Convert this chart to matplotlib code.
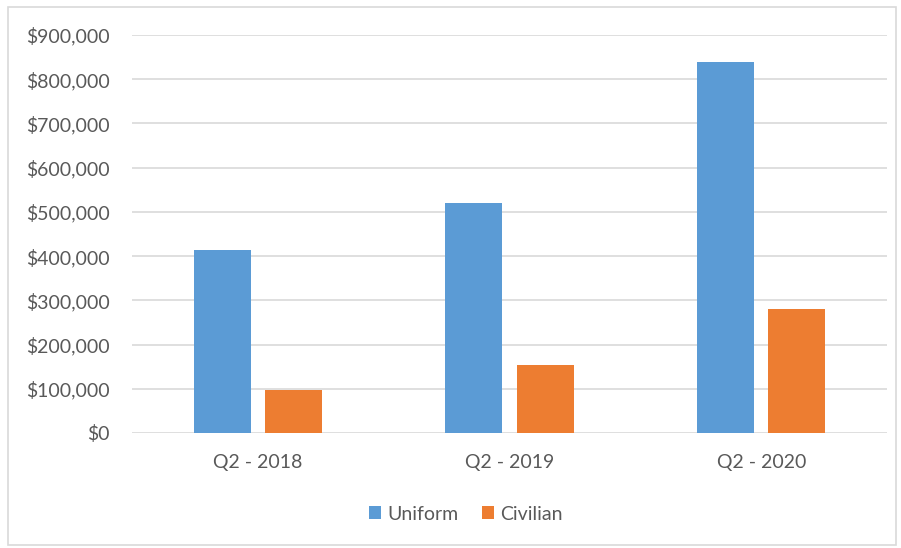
import numpy as np
import matplotlib.pyplot as plt
from matplotlib.patches import Rectangle
from matplotlib.ticker import FuncFormatter

plt.rcParams['font.family'] = ['Lato', 'DejaVu Sans']

categories = ['Q2 - 2018', 'Q2 - 2019', 'Q2 - 2020']
uniform = [414000, 521000, 839000]
civilian = [97000, 154000, 280000]

fig = plt.figure(figsize=(9.01, 5.48), dpi=100)
ax = fig.add_axes([0.1465, 0.2099, 0.838, 0.7262])

x = np.arange(len(categories))
w = 0.227
gap = 0.056
ax.bar(x - (w + gap) / 2, uniform, w, color='#5b9bd5', label='Uniform', zorder=3)
ax.bar(x + (w + gap) / 2, civilian, w, color='#ed7d31', label='Civilian', zorder=3)

ax.set_xlim(-0.5, 2.5)
ax.set_ylim(0, 900000)
ax.set_yticks(np.arange(0, 900001, 100000))
ax.yaxis.set_major_formatter(FuncFormatter(lambda v, p: '${:,.0f}'.format(v)))
ax.set_xticks(x)
ax.set_xticklabels(categories)
ax.grid(axis='y', color='#d9d9d9', linewidth=1.2, zorder=0)
for s in ax.spines.values():
    s.set_visible(False)
ax.tick_params(length=0, colors='#595959', labelsize=14)
ax.tick_params(axis='y', pad=16)
ax.tick_params(axis='x', pad=15)

leg = fig.legend(loc='center', bbox_to_anchor=(466 / 901, 1 - 514 / 548), ncol=2, frameon=False,
                 fontsize=14, handlelength=0.6, handleheight=0.6, handletextpad=0.35,
                 columnspacing=1.2)
for t in leg.get_texts():
    t.set_color('#595959')

fig.patches.append(Rectangle((8 / 901, 3 / 548), 888 / 901, 538 / 548, transform=fig.transFigure,
                             fill=False, edgecolor='#d9d9d9', linewidth=1.2))

fig.savefig('out.png', dpi=100)
